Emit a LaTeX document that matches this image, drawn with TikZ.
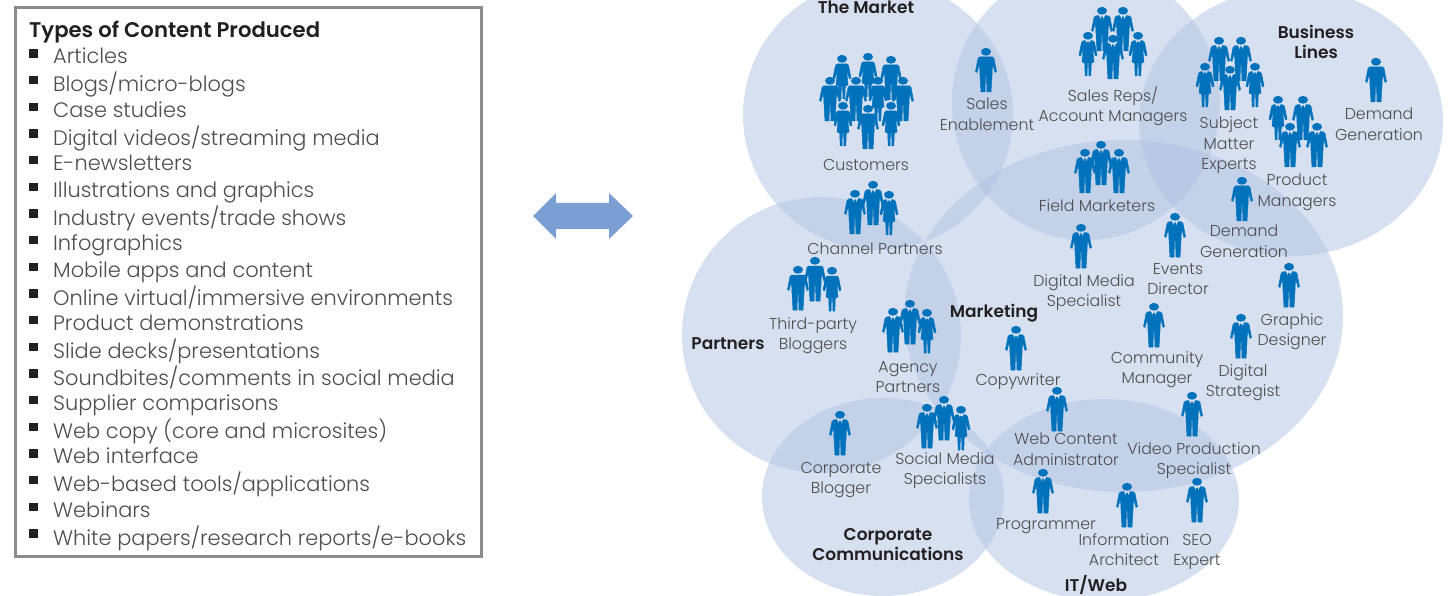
\documentclass[tikz,border=0pt]{standalone}
\usepackage{fontspec}
\setmainfont{Poppins Light}[BoldFont={Poppins SemiBold}]
\definecolor{bluefig}{HTML}{0072BC}
\definecolor{circ}{HTML}{B1C3E3}
\definecolor{txt}{HTML}{4D4D4F}
\definecolor{hd}{HTML}{231F20}
\definecolor{boxline}{HTML}{8A8C8E}
\definecolor{arrowc}{HTML}{7B9FD3}
\tikzset{
  x=1pt,y=-1pt,
  venn/.style={fill=circ,fill opacity=.5,draw=none},
  person/.style={fill=bluefig,draw=bluefig,line width=.5pt,line join=round},
  headp/.style={fill=bluefig,draw=none},
  lab/.style={inner sep=0pt,align=center,text=txt,font=\fontsize{15.8}{20.2}\selectfont,
    execute at begin node=\strut,execute at end node=\strut,yshift=-3.2pt},
  bhead/.style={lab,text=hd,font=\fontsize{17}{20.2}\selectfont\bfseries,yshift=0pt},
  item/.style={inner sep=0pt,anchor=west,text=txt,font=\fontsize{20.9}{24}\selectfont,
    execute at begin node=\strut,yshift=-2.5pt},
  bul/.style={fill=hd,draw=none,minimum size=8.5pt,inner sep=0pt},
  mp/.pic={\fill[headp] (0,3.8) ellipse[x radius=5pt,y radius=3.9pt];
    \filldraw[person] (-6.5,9) -- (6.5,9) -- (8,10.5) -- (10.5,23.5) -- (9,24.5) -- (6.5,15) -- (6,27) -- (5,44) -- (1,44) -- (.5,28) -- (-.5,28) -- (-1,44) -- (-5,44) -- (-6,27) -- (-6.5,15) -- (-9,24.5) -- (-10.5,23.5) -- (-8,10.5) -- cycle;},
  ms/.pic={\fill[headp] (0,3.8) ellipse[x radius=5pt,y radius=3.9pt];
    \filldraw[person] (-3.4,8.6) -- (-.9,14) -- (-.9,10) -- (.9,10) -- (.9,14) -- (3.4,8.6) -- (6.5,9) -- (8,10.5) -- (10.5,23.5) -- (9,24.5) -- (6.5,15) -- (6,27) -- (5,44) -- (1,44) -- (.5,28) -- (-.5,28) -- (-1,44) -- (-5,44) -- (-6,27) -- (-6.5,15) -- (-9,24.5) -- (-10.5,23.5) -- (-8,10.5) -- (-6.5,9) -- cycle;},
  wp/.pic={\fill[headp] (0,3.8) ellipse[x radius=5pt,y radius=3.9pt];
    \filldraw[person] (-5,9) -- (5,9) -- (6.5,10.5) -- (9,23) -- (7.5,24) -- (4.5,15) -- (6,30) -- (3.3,31) -- (2.8,44) -- (1,44) -- (.6,31) -- (-.6,31) -- (-1,44) -- (-2.8,44) -- (-3.3,31) -- (-6,30) -- (-4.5,15) -- (-7.5,24) -- (-9,23) -- (-6.5,10.5) -- cycle;},
  ws/.pic={\fill[headp] (0,3.8) ellipse[x radius=5pt,y radius=3.9pt];
    \filldraw[person] (-2.8,8.6) -- (-.8,13.5) -- (-.8,10) -- (.8,10) -- (.8,13.5) -- (2.8,8.6) -- (5,9) -- (6.5,10.5) -- (9,23) -- (7.5,24) -- (4.5,15) -- (6,30) -- (3.3,31) -- (2.8,44) -- (1,44) -- (.6,31) -- (-.6,31) -- (-1,44) -- (-2.8,44) -- (-3.3,31) -- (-6,30) -- (-4.5,15) -- (-7.5,24) -- (-9,23) -- (-6.5,10.5) -- (-5,9) -- cycle;},
}
\newcommand{\Pp}[3]{\pic at (#2,#3) {#1};}
\newcommand{\Lb}[4]{\node[lab] (#1) at (#2,#3) {#4};}
\newcommand{\Hd}[4]{\node[bhead] (#1) at (#2,#3) {#4};}
\newcounter{itm}
\newcommand{\It}[1]{\node[item] (item\theitm) at (53,56.5+26.67*\theitm) {#1};
  \node[bul] (bul\theitm) at (33.5,53.5+26.67*\theitm) {};\stepcounter{itm}}
\begin{document}
\begin{tikzpicture}
\useasboundingbox (0,0) rectangle (1451,596);
\clip (0,0) rectangle (1451,596);
\fill[white] (0,0) rectangle (1451,596);
% venn
\fill[venn] (878,115) ellipse[x radius=135pt,y radius=135pt];
\fill[venn] (1086,103) ellipse[x radius=134pt,y radius=137pt];
\fill[venn] (1291,122) ellipse[x radius=152pt,y radius=134pt];
\fill[venn] (1123.5,316) ellipse[x radius=219.5pt,y radius=176pt];
\fill[venn] (821.5,335) ellipse[x radius=139.5pt,y radius=138pt];
\fill[venn] (883,497) ellipse[x radius=121pt,y radius=99pt];
\fill[venn] (1104,500) ellipse[x radius=135pt,y radius=101pt];
% list box
\draw[boxline,line width=3pt,fill=white] (15.5,8) rectangle (481,556.5);
\node[item,text=hd,font=\fontsize{21.2}{24}\selectfont\bfseries] (title) at (29,30) {Types of Content Produced};
\It{Articles}
\It{Blogs/micro-blogs}
\It{Case studies}
\It{Digital videos/streaming media}
\It{E-newsletters}
\It{Illustrations and graphics}
\It{Industry events/trade shows}
\It{Infographics}
\It{Mobile apps and content}
\It{Online virtual/immersive environments}
\It{Product demonstrations}
\It{Slide decks/presentations}
\It{Soundbites/comments in social media}
\It{Supplier comparisons}
\It{Web copy (core and microsites)}
\It{Web interface}
\It{Web-based tools/applications}
\It{Webinars}
\It{White papers/research reports/e-books}
% arrow
\fill[arrowc] (533,216) -- (556,193) -- (556,203) -- (609,203) -- (609,193) -- (633,216) -- (609,239) -- (609,229) -- (556,229) -- (556,239) -- cycle;
% customers
\Pp{wp}{842}{55}\Pp{wp}{868}{53}\Pp{mp}{891}{56}
\Pp{mp}{830}{77}\Pp{mp}{856}{77}\Pp{wp}{878}{77}\Pp{mp}{903}{77}
\Pp{wp}{843}{102}\Pp{mp}{868}{105}\Pp{wp}{891}{102}
\Pp{mp}{986}{48}
% sales reps
\Pp{ms}{1102}{7}\Pp{ms}{1123}{7}\Pp{ws}{1088}{32}\Pp{ws}{1138}{32}\Pp{ms}{1113}{35}
% SME
\Pp{ms}{1219}{37}\Pp{ms}{1241}{37}\Pp{ws}{1205}{63}\Pp{ws}{1255}{63}\Pp{ms}{1230}{66}
% product managers
\Pp{ws}{1278}{96}\Pp{ms}{1303}{96}\Pp{ms}{1290}{123}\Pp{ms}{1317}{123}
\Pp{mp}{1376}{58}\Pp{mp}{1242}{177}
\Pp{ms}{1175}{213}\Pp{ms}{1289}{263}
% field marketers
\Pp{ms}{1085}{149}\Pp{ms}{1101}{141}\Pp{ms}{1119}{149}
\Pp{ms}{1081}{224}\Pp{ms}{1154}{303}\Pp{ms}{1241}{314}\Pp{ms}{1016}{326}
\Pp{ms}{1057}{387}\Pp{ms}{1192}{392}
% channel partners
\Pp{ms}{855}{190}\Pp{ms}{873}{181}\Pp{ws}{889}{191}
% third party
\Pp{mp}{798}{266}\Pp{mp}{815}{257}\Pp{wp}{832}{267}
% agency
\Pp{ms}{893}{308}\Pp{ms}{910}{300}\Pp{ws}{927}{309}
\Pp{ms}{840}{411}
% social
\Pp{ms}{944}{396}\Pp{ms}{927}{404}\Pp{ws}{961}{406}
\Pp{ms}{1043}{469}\Pp{ms}{1127}{483}\Pp{ms}{1197}{478}
% labels
\Hd{lMarket}{866}{6}{The Market}
\Hd{lBiz}{1316}{42}{Business\\Lines}
\Hd{lPart}{728}{342}{Partners}
\Hd{lMktg}{994}{310}{Marketing}
\Hd{lCorp}{888}{544}{Corporate\\Communications}
\Hd{lIT}{1096}{583}{IT/Web}
\Lb{lCust}{866}{163.5}{Customers}
\Lb{lEnab}{987}{114}{Sales\\Enablement}
\Lb{lReps}{1113}{104}{Sales Reps/\\Account Managers}
\Lb{lSME}{1229}{143}{Subject\\Matter\\Experts}
\Lb{lDG}{1379}{124}{Demand\\Generation}
\Lb{lPM}{1297}{190}{Product\\Managers}
\Lb{lField}{1097}{204}{Field Marketers}
\Lb{lDG2}{1244}{241}{Demand\\Generation}
\Lb{lEvt}{1178}{279}{Events\\Director}
\Lb{lDMS}{1084}{290}{Digital Media\\Specialist}
\Lb{lChan}{875}{247}{Channel Partners}
\Lb{lThird}{813}{333}{Third-party\\Bloggers}
\Lb{lGD}{1292}{329}{Graphic\\Designer}
\Lb{lCM}{1157}{367}{Community\\Manager}
\Lb{lDS}{1243}{380}{Digital\\Strategist}
\Lb{lAg}{908}{377}{Agency\\Partners}
\Lb{lCopy}{1018}{378.5}{Copywriter}
\Lb{lWeb}{1066}{449}{Web Content\\Administrator}
\Lb{lVid}{1194}{458}{Video Production\\Specialist}
\Lb{lBlog}{841}{478}{Corporate\\Blogger}
\Lb{lSoc}{945}{468}{Social Media\\Specialists}
\Lb{lProg}{1046}{522}{Programmer}
\Lb{lIA}{1124}{549}{Information\\Architect}
\Lb{lSEO}{1197}{550}{SEO\\Expert}
\end{tikzpicture}
\end{document}
